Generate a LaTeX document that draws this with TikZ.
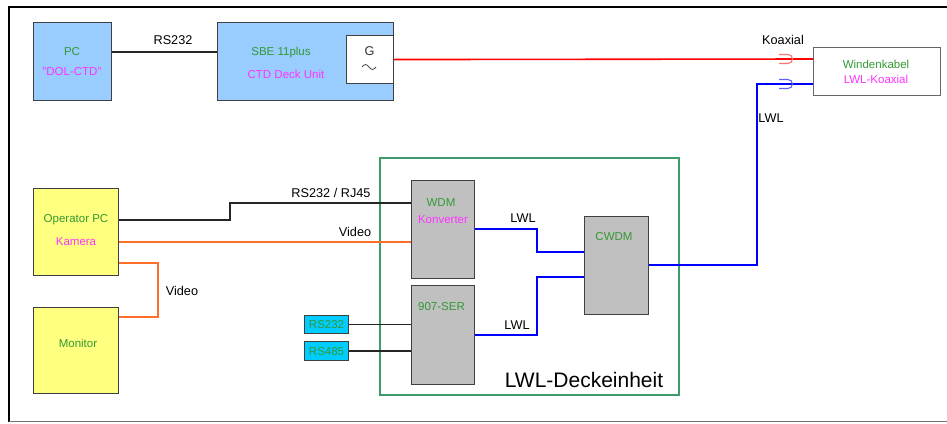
\documentclass[tikz,border=0pt]{standalone}
\usepackage{fontspec}
\setmainfont{Liberation Sans}
\definecolor{lblue}{HTML}{99CCFF}
\definecolor{lyellow}{HTML}{FFFF80}
\definecolor{lgray}{HTML}{C0C0C0}
\definecolor{cyanbox}{HTML}{00CCFF}
\definecolor{tgreen}{HTML}{339933}
\definecolor{tmag}{HTML}{FF33FF}
\definecolor{frgreen}{HTML}{3C9C6C}
\definecolor{orangeline}{HTML}{FF6F28}
\definecolor{lred}{HTML}{FF7070}
\definecolor{lbluel}{HTML}{6060FF}
\begin{document}
\begin{tikzpicture}[x=1pt,y=-1pt,
  box/.style={draw=black!75, line width=1.1pt, inner sep=0pt, anchor=north west},
  gtxt/.style={text=tgreen, font=\fontsize{11.5}{13}\selectfont, inner sep=0pt},
  mtxt/.style={text=tmag, font=\fontsize{11.5}{13}\selectfont, inner sep=0pt},
  lbl/.style={font=\fontsize{12.7}{15}\selectfont, inner sep=0pt},
  wire/.style={line width=1.6pt},
]
\useasboundingbox (0,0) rectangle (947,423);
% outer frame
\draw[line width=2pt] (947,7) -- (9,7) -- (9,421.5);
\draw[black!55, line width=1.4pt] (9,421.5) -- (947,421.5);

% group frame
\node[draw=frgreen, line width=1.5pt, inner sep=0pt, anchor=north west,
      minimum width=299pt, minimum height=237pt] (lwl) at (379,157) {};
\node[font=\fontsize{21}{24}\selectfont, inner sep=0pt] (lwltxt) at (584,380) {LWL-Deckeinheit};

% boxes
\node[box, fill=lblue, minimum width=78pt, minimum height=78pt] (pc) at (33,22) {};
\node[box, fill=lblue, minimum width=176pt, minimum height=78pt] (sbe) at (217,22) {};
\node[box, fill=white, minimum width=47pt, minimum height=48pt] (g) at (346,35) {};
\node[box, draw=black!60, fill=white, minimum width=127pt, minimum height=48pt] (wk) at (813,47) {};
\node[box, fill=lyellow, minimum width=85pt, minimum height=87pt] (op) at (33,188) {};
\node[box, fill=lyellow, minimum width=85pt, minimum height=86pt] (mon) at (33,307) {};
\node[box, fill=lgray, minimum width=63pt, minimum height=98pt] (wdm) at (411,180) {};
\node[box, fill=lgray, minimum width=63pt, minimum height=99pt] (ser) at (411,285) {};
\node[box, fill=lgray, minimum width=64pt, minimum height=98pt] (cwdm) at (584,216) {};
\node[box, fill=cyanbox, minimum width=44pt, minimum height=18pt] (rsa) at (304,315) {};
\node[box, fill=cyanbox, minimum width=44pt, minimum height=19pt] (rsb) at (304,341) {};

% box texts
\node[gtxt] (pct1) at (72,52) {PC};
\node[mtxt] (pct2) at (72,72) {"DOL-CTD"};
\node[gtxt] (sbet1) at (281,53) {SBE 11plus};
\node[mtxt] (sbet2) at (286,74) {CTD Deck Unit};
\node[font=\fontsize{12.7}{15}\selectfont, text=black!80, inner sep=0pt] (gt) at (369.5,51) {G};
\draw[black!70, line width=0.8pt] (362,67) sin (365.5,64.5) cos (369,67) sin (372.5,69.5) cos (376,67);
\node[gtxt] (wkt1) at (876,64) {Windenkabel};
\node[mtxt] (wkt2) at (876,79) {LWL-Koaxial};
\node[gtxt] (opt1) at (76,220) {Operator PC};
\node[mtxt] (opt2) at (76,242) {Kamera};
\node[gtxt] (mont) at (78,343) {Monitor};
\node[gtxt] (wdmt1) at (441,203) {WDM};
\node[mtxt] (wdmt2) at (443,220) {Konverter};
\node[gtxt] (sert) at (441.5,307) {907-SER};
\node[gtxt] (cwdmt) at (614,237) {CWDM};
\node[gtxt] (rsat) at (rsa.center) {RS232};
\node[gtxt] (rsbt) at (rsb.center) {RS485};

% wires
\draw[wire, black!85] (pc.east |- 0,52) -- (sbe.west |- 0,52);
\node[lbl] (l1) at (173,40) {RS232};
\draw[wire, red] (g.east) -- (wk.west |- 0,59);
\draw[lred, line width=1.1pt] (779,54.5) -- (788,54.5) arc[start angle=90, end angle=-90, radius=4.5pt] -- (779,63.5);
\node[lbl] (l2) at (783,40) {Koaxial};
\draw[wire, blue] (cwdm.east |- 0,265) -- (757,265) -- (757,84) -- (wk.west |- 0,84);
\draw[lbluel, line width=1.1pt] (779,79.5) -- (788,79.5) arc[start angle=90, end angle=-90, radius=4.5pt] -- (779,88.5);
\node[lbl] (l3) at (771,118) {LWL};
\draw[wire, blue] (wdm.east |- 0,229) -- (537,229) -- (537,252) -- (cwdm.west |- 0,252);
\node[lbl] (l4) at (523,218) {LWL};
\draw[wire, blue] (ser.east |- 0,335) -- (537,335) -- (537,277) -- (cwdm.west |- 0,277);
\node[lbl] (l5) at (517,325) {LWL};
\draw[wire, black!85] (op.east |- 0,220) -- (230,220) -- (230,203) -- (wdm.west |- 0,203);
\node[lbl] (l6) at (331,193) {RS232 / RJ45};
\draw[wire, orangeline] (op.east |- 0,242) -- (wdm.west |- 0,242);
\node[lbl] (l7) at (355,232) {Video};
\draw[wire, orangeline] (op.east |- 0,263) -- (158,263) -- (158,317) -- (mon.east |- 0,317);
\node[lbl] (l8) at (182,291) {Video};
\draw[wire, black!85] (rsa.east) -- (ser.west |- rsa.east);
\draw[wire, black!85] (rsb.east) -- (ser.west |- rsb.east);
\end{tikzpicture}
\end{document}
